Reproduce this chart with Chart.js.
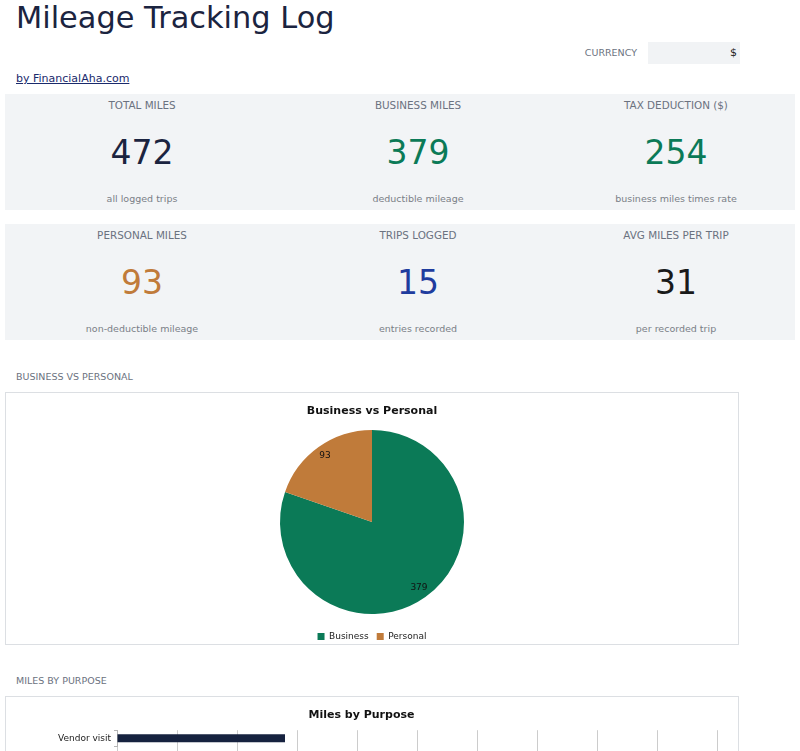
<!DOCTYPE html>
<html>
<head>
<meta charset="utf-8">
<title>Mileage Tracking Log</title>
<script src="https://cdn.jsdelivr.net/npm/chart.js@4.4.1/dist/chart.umd.min.js"></script>
<style>
  body { margin: 0; background: #fff; font-family: "DejaVu Sans", sans-serif; width: 800px; height: 751px; overflow: hidden; position: relative; }
  .abs { position: absolute; }
  h1 { position: absolute; left: 16px; top: -2px; margin: 0; font-size: 30.4px; font-weight: normal; color: #1b2440; line-height: 40px; }
  .cur-label { left: 540px; width: 97px; top: 46px; text-align: right; font-size: 9.5px; color: #6b7280; line-height: 14px; }
  .cur-box { left: 648px; top: 42px; width: 92px; height: 22px; background: #f1f3f5; font-size: 11px; color: #222; text-align: right; line-height: 22px; box-sizing: border-box; padding-right: 3px; }
  .link { left: 16px; top: 72px; font-size: 11px; color: #1a2a6c; text-decoration: underline; line-height: 14px; }
  .row { left: 5px; width: 790px; height: 116px; background: #f2f4f6; display: grid; grid-template-columns: 274px 278px 238px; }
  .cell { position: relative; text-align: center; }
  .cell .lbl { position: absolute; left: 0; right: 0; top: 5px; font-size: 10.4px; color: #6b7280; line-height: 12px; }
  .cell .num { position: absolute; left: 0; right: 0; top: 39px; font-size: 33px; line-height: 40px; }
  .cell .sub { position: absolute; left: 0; right: 0; top: 99px; font-size: 9.5px; color: #7a7f87; line-height: 12px; }
  .section { left: 16px; font-size: 9.5px; color: #6b7280; line-height: 12px; }
  .box { left: 5px; width: 734px; border: 1px solid #dcdfe3; box-sizing: border-box; background: #fff; overflow: hidden; }
</style>
</head>
<body>
<h1>Mileage Tracking Log</h1>
<div class="abs cur-label">CURRENCY</div>
<div class="abs cur-box">$</div>
<div class="abs link">by FinancialAha.com</div>

<div class="abs row" style="top:94px">
  <div class="cell"><div class="lbl">TOTAL MILES</div><div class="num" style="color:#1b2440">472</div><div class="sub">all logged trips</div></div>
  <div class="cell"><div class="lbl">BUSINESS MILES</div><div class="num" style="color:#0b7a57">379</div><div class="sub">deductible mileage</div></div>
  <div class="cell"><div class="lbl">TAX DEDUCTION ($)</div><div class="num" style="color:#0b7a57">254</div><div class="sub">business miles times rate</div></div>
</div>
<div class="abs row" style="top:224px">
  <div class="cell"><div class="lbl">PERSONAL MILES</div><div class="num" style="color:#c07b3a">93</div><div class="sub">non-deductible mileage</div></div>
  <div class="cell"><div class="lbl">TRIPS LOGGED</div><div class="num" style="color:#1f3c9e">15</div><div class="sub">entries recorded</div></div>
  <div class="cell"><div class="lbl">AVG MILES PER TRIP</div><div class="num" style="color:#1a1a1a">31</div><div class="sub">per recorded trip</div></div>
</div>

<div class="abs section" style="top:371px">BUSINESS VS PERSONAL</div>
<div class="abs box" style="top:392px; height:253px;">
  <div style="position:relative; width:732px; height:258px;"><canvas id="pieChart"></canvas></div>
</div>

<div class="abs section" style="top:675px">MILES BY PURPOSE</div>
<div class="abs box" style="top:696px; height:120px;">
  <div style="position:relative; width:732px; height:71px;"><canvas id="purposeChart"></canvas></div>
</div>

<script>
  // split of logged miles
  const splitLabels = ["Business", "Personal"];
  const splitMiles = [379, 93];
  const splitColors = ["#0b7a57", "#c07b3a"];

  // miles per trip purpose (only the first row is on screen)
  const purposeLabels = ["Vendor visit"];
  const purposeMiles = [28];
  const purposeTicks = { min: 0, max: 100, step: 10 };

  Chart.defaults.font.family = '"DejaVu Sans", sans-serif';
  Chart.defaults.animation = false;

  // value labels inside the pie slices
  const sliceLabels = {
    id: "sliceLabels",
    afterDatasetsDraw(chart) {
      const ctx = chart.ctx;
      const meta = chart.getDatasetMeta(0);
      ctx.save();
      ctx.font = '9px "DejaVu Sans"';
      ctx.fillStyle = "#111";
      ctx.textAlign = "center";
      ctx.textBaseline = "middle";
      meta.data.forEach((arc, i) => {
        const p = arc.getProps(["x", "y", "startAngle", "endAngle", "outerRadius"], true);
        const mid = (p.startAngle + p.endAngle) / 2;
        const r = p.outerRadius * 0.88;
        ctx.fillText(chart.data.datasets[0].data[i], p.x + Math.cos(mid) * r, p.y + Math.sin(mid) * r);
      });
      ctx.restore();
    }
  };

  new Chart(document.getElementById("pieChart"), {
    type: "pie",
    data: {
      labels: splitLabels,
      datasets: [{
        data: splitMiles,
        backgroundColor: splitColors,
        borderWidth: 0,
        hoverOffset: 0
      }]
    },
    options: {
      responsive: true,
      maintainAspectRatio: false,
      radius: 92,
      plugins: {
        title: {
          display: true,
          text: "Business vs Personal",
          color: "#111",
          font: { size: 11, weight: "bold" },
          padding: { top: 12, bottom: 1.8 }
        },
        legend: {
          position: "bottom",
          labels: { boxWidth: 7, boxHeight: 7, color: "#222", font: { size: 9 }, padding: 8 }
        },
        tooltip: { enabled: false }
      }
    },
    plugins: [sliceLabels]
  });

  new Chart(document.getElementById("purposeChart"), {
    type: "bar",
    data: {
      labels: purposeLabels,
      datasets: [{
        label: "Miles",
        data: purposeMiles,
        backgroundColor: "#16223f",
        categoryPercentage: 0.8,
        barPercentage: 0.625
      }]
    },
    options: {
      indexAxis: "y",
      responsive: true,
      maintainAspectRatio: false,
      layout: { padding: { right: 21 } },
      plugins: {
        legend: { display: false },
        title: {
          display: true,
          text: "Miles by Purpose",
          color: "#111",
          font: { size: 11, weight: "bold" },
          padding: { top: 12, bottom: 8 }
        },
        tooltip: { enabled: false }
      },
      scales: {
        x: {
          min: purposeTicks.min,
          max: purposeTicks.max,
          ticks: { stepSize: purposeTicks.step, color: "#222", font: { size: 9 } },
          grid: { color: "#cccccc" },
          border: { display: false },
          afterFit(scale) { scale.height = 21.8; }
        },
        y: {
          ticks: { color: "#222", font: { size: 9 }, padding: 3 },
          grid: { drawOnChartArea: false, tickLength: 3, color: "#b5b5b5" },
          border: { color: "#b5b5b5" },
          afterFit(scale) { scale.width = 111; }
        }
      }
    }
  });
</script>
</body>
</html>
